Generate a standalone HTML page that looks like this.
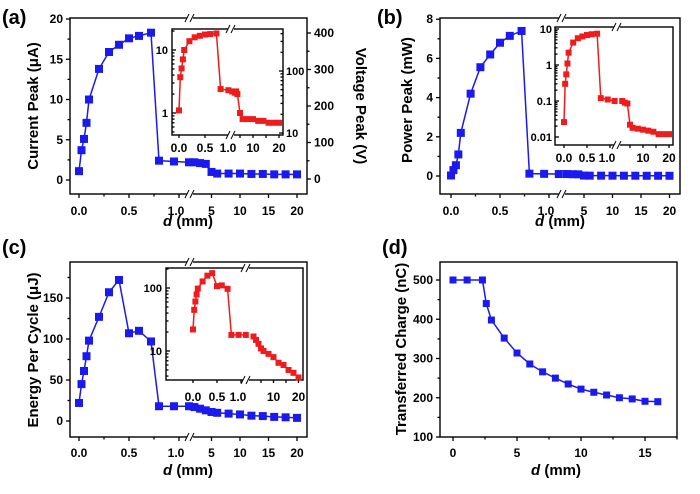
<!DOCTYPE html>
<html><head><meta charset="utf-8"><style>
body{margin:0;background:#fff;width:700px;height:489px;overflow:hidden}
svg{font-family:"Liberation Sans",Arial,sans-serif;font-weight:bold}
</style></head><body>
<svg id="s" width="700" height="489" viewBox="0 0 700 489"></svg>
<script>
// ---- data ----
const dist=[0,0.025,0.05,0.075,0.1,0.2,0.3,0.4,0.5,0.6,0.72,0.8,0.95,1.1,2,3,4,5,6,8,10,12,14,16,18,20];
const currentPeak=[1.1,3.7,5.1,7.1,10,13.8,15.9,16.8,17.6,17.9,18.3,2.4,2.3,2.2,2.2,2.1,2.0,1.0,0.8,0.8,0.8,0.75,0.75,0.7,0.7,0.7];
const powerPeak=[0.026,0.3,0.55,1.1,2.2,4.2,5.55,6.2,6.8,7.15,7.4,0.12,0.11,0.1,0.1,0.09,0.085,0.022,0.018,0.017,0.016,0.015,0.014,0.012,0.012,0.012];
const energy=[22,45,61,79,98,127,157,172,107,110,97,18,18,18,17,15,13,11,10,9,8,6.5,6,5,4.5,3.8];
const distD=[0,1.1,2.3,2.6,3,4,5,6,7,8,9,10,11,12,13,14,15,16];
const charge=[500,500,500,440,398,352,314,286,266,250,235,222,214,207,200,197,191,190];
const ticksBrokenMain=["0.0","0.5","1.0"], ticksBrokenLog=["5","10","15","20"], ticksInsetLog=["","10","","20"];

const S=document.getElementById('s');const NS='http://www.w3.org/2000/svg';
function el(t,a,name){const e=document.createElementNS(NS,t);for(const k in a)e.setAttribute(k,a[k]);


S.appendChild(e);return e;}
function txt(x,y,s,size,anchor,name,extra){const e=el('text',Object.assign({x:x,y:y,'font-size':size,'text-anchor':anchor||'middle',fill:'#000'},extra||{}),name);e.textContent=s;return e;}
function line(x1,y1,x2,y2,name,w){return el('line',{x1,y1,x2,y2,stroke:'#000','stroke-width':w||1.3},name);}
function box(b,name){el('rect',{x:b[0],y:b[1],width:b[2]-b[0],height:b[3]-b[1],fill:'#fff',stroke:'#000','stroke-width':1.4},name);}
function brk(x,y,name){el('rect',{x:x-3,y:y-4,width:6,height:8,fill:'#fff'},name+'-gap');
line(x-5,y+4,x-1,y-4,name+'-l1',1);line(x,y+4,x+4,y-4,name+'-l2',1);}
function series(xs,ys,X,Y,split,color,ms,name){
 const segs=[[],[]];xs.forEach((d,i)=>segs[d>split?1:0].push([X(d),Y(ys[i])]));
 segs.forEach((sg,k)=>{if(sg.length)el('polyline',{points:sg.map(p=>p.join(',')).join(' '),fill:'none',stroke:color,'stroke-width':1.5},name+'-line-'+k);});
 xs.forEach((d,i)=>{el('rect',{x:X(d)-ms/2,y:Y(ys[i])-ms/2,width:ms,height:ms,fill:color},name+'-point');});
}
function brokenX(b,x1,x2,brX,main,fs,ly){
 const yb=b[3];const labs2=main?ticksBrokenLog:ticksInsetLog;
 [0,0.5,1].forEach((d,i)=>{line(x1(d),yb,x1(d),yb+(main?4:3),'x-tick');txt(x1(d)-(i==2?3:0),ly,ticksBrokenMain[i],fs,'middle','x-tick-label');});
 if(main)[0.25,0.75].forEach(d=>line(x1(d),yb,x1(d),yb+2.5,'x-minor-tick'));
 [5,10,15,20].forEach((d,i)=>{line(x2(d),yb,x2(d),yb+(main?4:3),'x-tick');if(labs2[i])txt(x2(d),ly,labs2[i],fs,'middle','x-tick-label');});
 brk(brX,b[1],'axis-break-top');brk(brX,b[3],'axis-break-bottom');
}
function linY(b,Y,vals,minor,labx,fs,name){vals.forEach(v=>{line(b[0]-4,Y(v),b[0],Y(v),name+'-tick');txt(labx,Y(v)+4,String(v),fs,'end',name+'-label');});
 minor.forEach(v=>line(b[0]-2.5,Y(v),b[0],Y(v),name+'-minor-tick'));}
function logY(b,Y,lo,hi,labels,labx,fs,side,name){
 for(let e=lo;e<hi;e++)for(let m=1;m<10;m++){const v=m*Math.pow(10,e);const y=Y(v);if(y<b[1]||y>b[3])continue;
  if(side=='l')line(b[0],y,b[0]+(m==1?4:2.5),y,name+'-tick');else line(b[2],y,b[2]-(m==1?4:2.5),y,name+'-tick');}
 labels.forEach(v=>txt(labx,Y(v)+4,String(v),fs,side=='l'?'end':'start',name+'-label'));}
function yTitle(x,y,s,rot,name){txt(x,y,s,15,'middle',name,{transform:`rotate(${rot} ${x} ${y})`});}
function dTitle(x,y){const e=txt(x,y,'',15,'middle','x-axis-title');e.innerHTML='<tspan font-style="italic">d</tspan> (mm)';}
const BLUE='#1a1aee',RED='#ee1c1c';
const lg=Math.log10;

// ---- (a) ----
{const b=[70,18,307,194];box(b,'panel-a-frame');
 const X1=d=>79+d*100,X2=d=>211.5+(d-5)*5.7,X=d=>d>1.5?X2(d):X1(d),Y=v=>180-v*8.05;
 linY(b,Y,[0,5,10,15,20],[2.5,7.5,12.5,17.5],63,12,'y-current');
 [0,100,200,300,400].forEach(v=>{const y=179-v*0.365;line(b[2],y,b[2]+4,y,'y-voltage-tick');txt(b[2]+7,y+4,String(v),12,'start','y-voltage-label');});
 [50,150,250,350].forEach(v=>{const y=179-v*0.365;line(b[2],y,b[2]+2.5,y,'y-voltage-minor');});
 brokenX(b,X1,X2,190,true,12,215);
 series(dist,currentPeak,X,Y,1.5,BLUE,8,'current-peak');
 const ib=[172,29,283,135];box(ib,'inset-a-frame');
 const IX1=d=>179+d*52,IX2=d=>240+(d-5)*2.6,IX=d=>d>1.5?IX2(d):IX1(d),IY=v=>113-lg(v)*63;
 logY(ib,IY,-1,2,[1,10],168,11,'l','inset-a-y');
 logY(ib,v=>133-(lg(v)-1)*62,1,3,[10,100],286,11,'r','inset-a-y2');
 brokenX(ib,IX1,IX2,231,false,12,152);
 series(dist,currentPeak,IX,IY,1.5,RED,6,'inset-current');
 txt(2,24,'(a)',20,'start','panel-label-a');
 yTitle(38,106,'Current Peak (μA)',-90,'y-axis-title-current');
 yTitle(356,106,'Voltage Peak (V)',90,'y-axis-title-voltage');
 dTitle(188,226);}
// ---- (b) ----
{const b=[440,18,680,194];box(b,'panel-b-frame');
 const X1=d=>451+d*98,X2=d=>584+(d-5)*5.7,X=d=>d>1.5?X2(d):X1(d),Y=v=>176-v*19.6;
 linY(b,Y,[0,2,4,6,8],[1,3,5,7],433,12,'y-power');
 brokenX(b,X1,X2,562,true,12,215);
 series(dist,powerPeak,X,Y,1.5,BLUE,8,'power-peak');
 const ib=[555,27,673,145];box(ib,'inset-b-frame');
 const IX1=d=>564+d*46,IX2=d=>630+(d-5)*2.6,IX=d=>d>1.5?IX2(d):IX1(d),IY=v=>137-(lg(v)+2)*36;
 logY(ib,IY,-2,2,[0.01,0.1,1,10],552,11,'l','inset-b-y');
 brokenX(ib,IX1,IX2,617,false,12,162);
 series(dist,powerPeak,IX,IY,1.5,RED,6,'inset-power');
 txt(377,24,'(b)',20,'start','panel-label-b');
 yTitle(412,100,'Power Peak (mW)',-90,'y-axis-title-power');
 dTitle(560,226);}
// ---- (c) ----
{const b=[70,262,307,437];box(b,'panel-c-frame');
 const X1=d=>79+d*100,X2=d=>211.5+(d-5)*5.7,X=d=>d>1.5?X2(d):X1(d),Y=v=>421-v*0.82;
 linY(b,Y,[0,50,100,150],[25,75,125,175],63,12,'y-energy');
 brokenX(b,X1,X2,190,true,12,457);
 series(dist,energy,X,Y,1.5,BLUE,8,'energy');
 const ib=[166,268,303,380];box(ib,'inset-c-frame');
 const IX1=d=>193+d*48,IX2=d=>261+(d-5)*2.5,IX=d=>d>1.5?IX2(d):IX1(d),IY=v=>351-(lg(v)-1)*63;
 logY(ib,IY,0,3,[10,100],162,11,'l','inset-c-y');
 brokenX(ib,IX1,IX2,246,false,12,401);
 series(dist,energy,IX,IY,1.5,RED,6,'inset-energy');
 txt(2,254,'(c)',20,'start','panel-label-c');
 yTitle(38,350,'Energy Per Cycle (μJ)',-90,'y-axis-title-energy');
 dTitle(188,475);}
// ---- (d) ----
{const b=[440,262,677,437];box(b,'panel-d-frame');
 const X=d=>453+d*12.8,Y=v=>437-(v-100)*0.3925;
 linY(b,Y,[100,200,300,400,500],[150,250,350,450],433,12,'y-charge');
 [0,5,10,15].forEach(d=>{line(X(d),b[3],X(d),b[3]+4,'x-tick');txt(X(d),457,String(d),12,'middle','x-tick-label');});
 [2.5,7.5,12.5,17.5].forEach(d=>line(X(d),b[3],X(d),b[3]+2.5,'x-minor-tick'));
 series(distD,charge,X,Y,99,BLUE,7,'transferred-charge');
 txt(382,254,'(d)',20,'start','panel-label-d');
 yTitle(406,349,'Transferred Charge (nC)',-90,'y-axis-title-charge');
 dTitle(556,475);}
</script>
</body></html>
